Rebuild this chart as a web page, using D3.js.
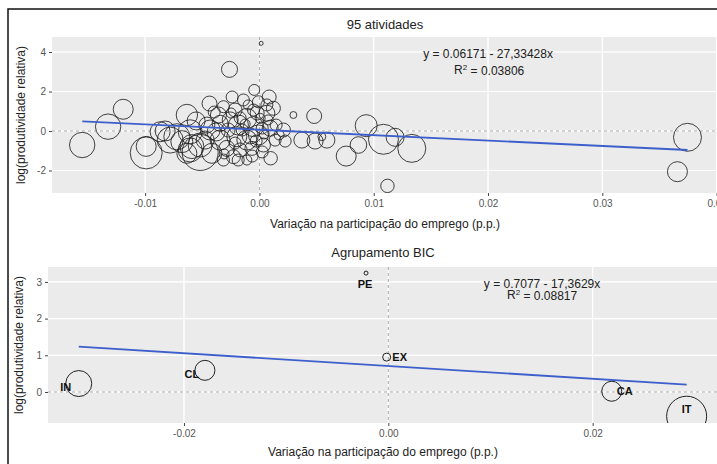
<!DOCTYPE html>
<html><head><meta charset="utf-8">
<script src="https://cdn.jsdelivr.net/npm/d3@7"></script>
<style>
body{margin:0;background:#fff;}
svg{display:block;font-family:"Liberation Sans",Arial,sans-serif;}
</style></head>
<body><svg id="c" width="717" height="464"></svg>
<script>
// ---- Data: 95 atividades ----
const topX = [-0.01551,-0.01324,-0.01192,-0.00991,-0.00991,-0.00723,-0.00635,-0.00519,-0.00679,-0.00591,
 -0.00635,-0.00825,-0.00606,-0.00262,0.00015,-0.00046,-0.00437,0.00085,0.00297,0.00479,
 0.00098,0.00759,0.00371,0.00487,0.00590,0.00546,0.00210,0.00866,0.00934,0.01085,
 0.01187,0.01333,0.01120,0.00122,0.03745,0.03657,-0.00140,-0.00315,-0.00213,-0.00009,
 0.00065,0.00065,-0.00110,-0.00256,-0.00184,-0.00052,-0.00344,-0.00460,-0.00606,-0.00169,
 -0.00519,-0.00344,-0.00198,-0.00110,-0.00009,-0.00285,-0.00169,-0.00066,-0.00227,-0.00315,
 -0.00416,0.00094,0.00137,0.00035,-0.00110,-0.00052,0.00006,-0.00431,-0.00359,-0.00869,
 -0.00781,-0.00274,-0.00151,-0.00081,-0.00213,-0.00029,0.00024,-0.00125,-0.00248,-0.00379,
 0.00024,-0.00099,-0.00186,0.00076,0.00172,0.00146,-0.00020,-0.00396,-0.00554,-0.00309,
 -0.00064,-0.00239,0.00041,0.00225,-0.00475];
const topY = [-0.71,0.22,1.10,-1.11,-0.78,-0.29,0.81,-1.09,-0.54,-0.79,
 -1.13,0.00,-0.96,3.12,4.44,2.08,1.39,1.72,0.81,0.76,
 -1.38,-1.27,-0.46,-0.51,-0.46,-0.29,0.05,-0.71,0.27,-0.42,
 -0.32,-0.88,-2.78,1.15,-0.32,-2.06,1.57,1.23,1.06,1.48,
 1.32,0.90,0.64,0.56,0.30,0.22,0.39,0.30,-0.04,0.66,
 -0.71,-0.46,-0.29,-0.46,-0.20,-0.88,-0.96,-0.88,-1.30,-1.47,
 -1.13,0.14,-0.46,-0.71,-1.47,1.06,0.64,0.05,0.81,-0.04,
 -0.46,0.05,0.05,-0.25,-0.61,-0.51,0.15,0.35,0.91,-0.05,
 -1.06,1.32,-1.47,0.56,-0.20,0.30,0.91,0.96,0.51,-1.16,
 -1.27,1.72,-0.15,-0.51,-0.46];
const topW = [1.61,1.61,1.00,2.56,1.00,1.69,1.14,3.24,1.21,1.44,
 1.00,1.00,1.44,0.64,0.04,0.30,0.56,0.49,0.12,0.56,
 0.45,1.00,0.64,0.64,0.64,0.16,0.49,0.69,1.21,2.25,
 0.81,1.96,0.45,0.49,1.96,1.00,0.36,0.36,0.49,0.36,
 0.36,0.64,1.00,0.64,1.00,1.00,0.64,0.64,1.44,0.36,
 1.44,1.00,1.00,1.00,1.00,0.64,0.49,0.49,0.49,0.36,
 1.00,0.64,0.36,0.49,0.25,0.36,0.25,1.00,0.64,1.00,
 1.69,0.49,0.36,0.64,0.36,0.36,0.36,0.25,0.25,0.81,
 0.36,0.25,0.36,0.25,0.25,0.36,0.49,0.36,0.81,0.25,
 0.36,0.36,0.25,0.36,0.81];
const topCoef = [0.06171, -27.33428];
const topFitRange = [-0.0155, 0.03745];

// ---- Data: Agrupamento BIC ----
const bicLabels = ["IN","CL","PE","EX","CA","IT"];
const bicX = [-0.0303,-0.01795,-0.00218,-0.00016,0.02187,0.0292];
const bicY = [0.23,0.59,3.24,0.95,0.02,-0.66];
const bicW = [1.69,1.00,0.04,0.16,1.00,4.00];
const bicLabelSide = ["left","left","below","right","right","above"];
const bicCoef = [0.7077, -17.3629];
const bicFitRange = [-0.0303, 0.0292];

const topXTicks = [-0.01,0,0.01,0.02,0.03,0.04];
const topXTickLabels = ["-0.01","0.00","0.01","0.02","0.03","0.04"];
const topYTicks = [-2,0,2,4];
const bicXTicks = [-0.02,0,0.02];
const bicXTickLabels = ["-0.02","0.00","0.02"];
const bicYTicks = [0,1,2,3];

const svg = d3.select("#c");
const rScale = d3.scaleSqrt().domain([0,1]).range([0,10]);

// frame
svg.append("rect").attr("x",8).attr("y",9).attr("width",740).attr("height",480)
  .attr("fill","none").attr("stroke","#111").attr("stroke-width",1.5);

function panel(cfg){
  const x = d3.scaleLinear().domain(cfg.xDom).range([cfg.left,cfg.right]);
  const y = d3.scaleLinear().domain(cfg.yDom).range([cfg.bottom,cfg.top]);
  const g = svg.append("g");
  const id = "clip"+cfg.id;
  svg.append("clipPath").attr("id",id).append("rect")
    .attr("x",cfg.left).attr("y",cfg.top).attr("width",cfg.right-cfg.left).attr("height",cfg.bottom-cfg.top);
  g.append("rect").attr("x",cfg.left).attr("y",cfg.top).attr("width",cfg.right-cfg.left)
    .attr("height",cfg.bottom-cfg.top).attr("fill","#ebebeb");
  const gg = g.append("g").attr("clip-path","url(#"+id+")");
  // minor grid
  const xt = cfg.xTicks, yt = cfg.yTicks;
  const dx = xt[1]-xt[0], dy = yt[1]-yt[0];
  const xMinor = [], yMinor = [];
  for(let v = xt[0]-dx*1.5; v <= xt[xt.length-1]+dx; v += dx) xMinor.push(v + dx/2 - dx/2 + dx/2);
  for(let v = yt[0]-dy*1.5; v <= yt[yt.length-1]+dy; v += dy) yMinor.push(v + dy/2);
  gg.selectAll(".xm").data(xMinor).join("line").attr("x1",d=>x(d)).attr("x2",d=>x(d))
    .attr("y1",cfg.top).attr("y2",cfg.bottom).attr("stroke","#fff").attr("stroke-width",0.6);
  gg.selectAll(".ym").data(yMinor).join("line").attr("y1",d=>y(d)).attr("y2",d=>y(d))
    .attr("x1",cfg.left).attr("x2",cfg.right).attr("stroke","#fff").attr("stroke-width",0.6);
  gg.selectAll(".xM").data(xt).join("line").attr("x1",d=>x(d)).attr("x2",d=>x(d))
    .attr("y1",cfg.top).attr("y2",cfg.bottom).attr("stroke","#fff").attr("stroke-width",1.2);
  gg.selectAll(".yM").data(yt).join("line").attr("y1",d=>y(d)).attr("y2",d=>y(d))
    .attr("x1",cfg.left).attr("x2",cfg.right).attr("stroke","#fff").attr("stroke-width",1.2);
  // reference dashed lines
  gg.append("line").attr("x1",cfg.left).attr("x2",cfg.right).attr("y1",y(0)).attr("y2",y(0))
    .attr("stroke","#aaa").attr("stroke-dasharray","3,3").attr("stroke-width",1);
  gg.append("line").attr("x1",x(0)).attr("x2",x(0)).attr("y1",cfg.top).attr("y2",cfg.bottom)
    .attr("stroke","#aaa").attr("stroke-dasharray","3,3").attr("stroke-width",1);
  // axes
  const xAxis = d3.axisBottom(x).tickValues(xt).tickFormat((d,i)=>cfg.xTickLabels[i]).tickSize(3).tickPadding(4);
  const ax = svg.append("g").attr("transform","translate(0,"+cfg.bottom+")").call(xAxis);
  const yAxis = d3.axisLeft(y).tickValues(yt).tickFormat(d=>String(d)).tickSize(3).tickPadding(3);
  const ay = svg.append("g").attr("transform","translate("+cfg.left+",0)").call(yAxis);
  [ax,ay].forEach(a=>{
    a.select(".domain").remove();
    a.selectAll(".tick line").attr("stroke","#444");
    a.selectAll(".tick text").attr("fill","#555").attr("font-size",10).attr("font-family","Liberation Sans, Arial, sans-serif");
  });
  // titles
  const cx = (cfg.left+cfg.right)/2;
  svg.append("text").attr("x",cx).attr("y",cfg.titleY).attr("text-anchor","middle")
    .attr("font-size",13).attr("fill","#222").text(cfg.title);
  svg.append("text").attr("x",cx).attr("y",cfg.xTitleY).attr("text-anchor","middle")
    .attr("font-size",12).attr("fill","#222").text("Variação na participação do emprego (p.p.)");
  svg.append("text").attr("transform","translate("+cfg.yTitleX+","+((cfg.top+cfg.bottom)/2)+") rotate(-90)")
    .attr("text-anchor","middle").attr("font-size",12).attr("fill","#222").text("log(produtividade relativa)");
  return {x,y,gg};
}

// ---- Top panel ----
const P1 = panel({id:1,left:52,right:718,top:37,bottom:193,xDom:[-0.01815,0.04012],yDom:[-3.14,4.76],
  xTicks:topXTicks,xTickLabels:topXTickLabels,yTicks:topYTicks,title:"95 atividades",titleY:29,xTitleY:228,yTitleX:25});
P1.gg.selectAll("circle.p").data(topX.map((v,i)=>({x:v,y:topY[i],w:topW[i]}))).join("circle")
  .attr("cx",d=>P1.x(d.x)).attr("cy",d=>P1.y(d.y)).attr("r",d=>rScale(d.w))
  .attr("fill","none").attr("stroke","#222").attr("stroke-width",1).attr("stroke-opacity",0.85);
P1.gg.append("line").attr("x1",P1.x(topFitRange[0])).attr("y1",P1.y(topCoef[0]+topCoef[1]*topFitRange[0]))
  .attr("x2",P1.x(topFitRange[1])).attr("y2",P1.y(topCoef[0]+topCoef[1]*topFitRange[1]))
  .attr("stroke","#3c5fcc").attr("stroke-width",1.8);
svg.append("text").attr("x",P1.x(0.02)).attr("y",P1.y(3.93)).attr("dy","0.35em").attr("text-anchor","middle")
  .attr("font-size",12).attr("fill","#222").text("y = 0.06171 - 27,33428x");
const r1 = svg.append("text").attr("x",P1.x(0.0201)).attr("y",P1.y(3.12)).attr("dy","0.35em").attr("text-anchor","middle")
  .attr("font-size",12).attr("fill","#222");
r1.append("tspan").text("R");
r1.append("tspan").attr("dy","-0.45em").attr("font-size",8).text("2");
r1.append("tspan").attr("dy","0.45em").text(" = 0.03806");

// ---- Bottom panel ----
const P2 = panel({id:2,left:48,right:718,top:267,bottom:423,xDom:[-0.03331,0.03227],yDom:[-0.845,3.406],
  xTicks:bicXTicks,xTickLabels:bicXTickLabels,yTicks:bicYTicks,title:"Agrupamento BIC",titleY:257,xTitleY:456,yTitleX:23});
const bic = bicX.map((v,i)=>({x:v,y:bicY[i],w:bicW[i],lab:bicLabels[i],side:bicLabelSide[i]}));
P2.gg.selectAll("circle.b").data(bic).join("circle")
  .attr("cx",d=>P2.x(d.x)).attr("cy",d=>P2.y(d.y)).attr("r",d=>rScale(d.w))
  .attr("fill","none").attr("stroke","#222").attr("stroke-width",1);
P2.gg.append("line").attr("x1",P2.x(bicFitRange[0])).attr("y1",P2.y(bicCoef[0]+bicCoef[1]*bicFitRange[0]))
  .attr("x2",P2.x(bicFitRange[1])).attr("y2",P2.y(bicCoef[0]+bicCoef[1]*bicFitRange[1]))
  .attr("stroke","#3c5fcc").attr("stroke-width",1.8);
const off = {left:[-13,4],right:[13,0],below:[-1,11],above:[0,-7]};
svg.selectAll("text.bl").data(bic).join("text")
  .attr("x",d=>P2.x(d.x)+off[d.side][0]).attr("y",d=>P2.y(d.y)+off[d.side][1]).attr("dy","0.35em")
  .attr("text-anchor","middle").attr("font-size",11).attr("font-weight","bold").attr("fill","#111").text(d=>d.lab);
svg.append("text").attr("x",P2.x(0.01505)).attr("y",P2.y(2.95)).attr("dy","0.35em").attr("text-anchor","middle")
  .attr("font-size",12).attr("fill","#222").text("y = 0.7077 - 17,3629x");
const r2 = svg.append("text").attr("x",P2.x(0.01505)).attr("y",P2.y(2.66)).attr("dy","0.35em").attr("text-anchor","middle")
  .attr("font-size",12).attr("fill","#222");
r2.append("tspan").text("R");
r2.append("tspan").attr("dy","-0.45em").attr("font-size",8).text("2");
r2.append("tspan").attr("dy","0.45em").text(" = 0.08817");
</script></body></html>
